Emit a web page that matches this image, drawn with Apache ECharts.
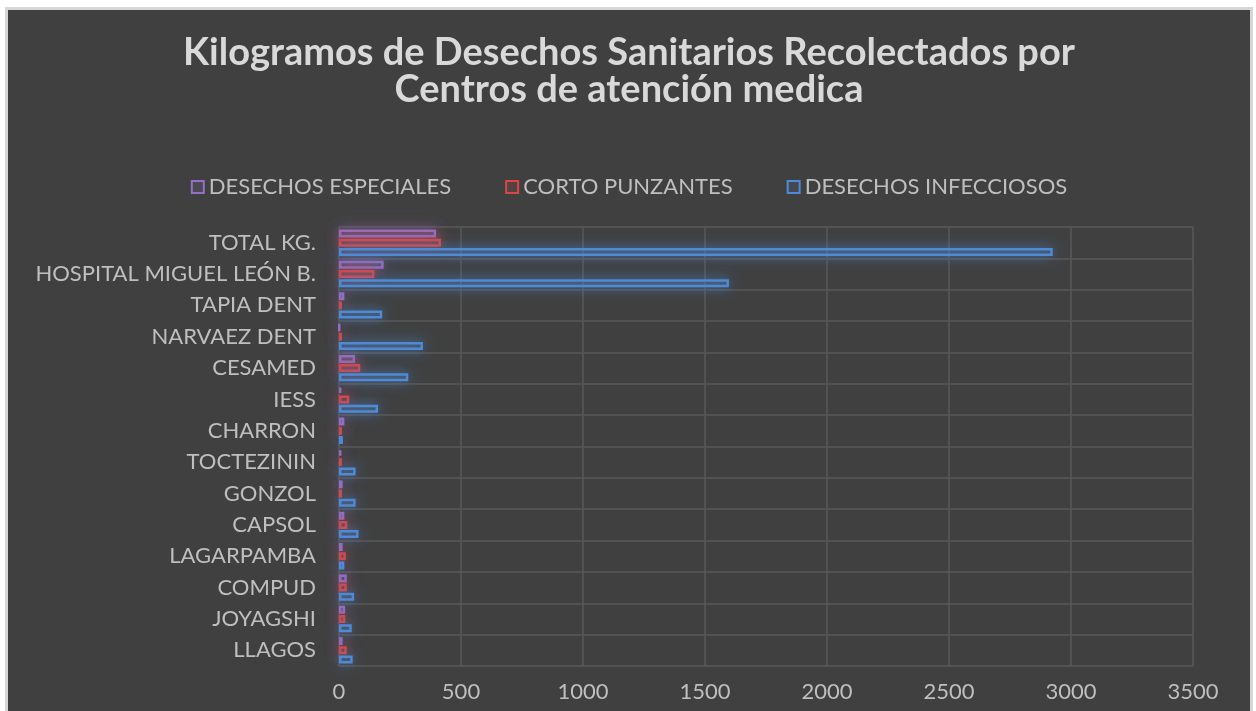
<!DOCTYPE html>
<html>
<head>
<meta charset="utf-8">
<script src="https://cdn.jsdelivr.net/npm/echarts@6/dist/echarts.min.js"></script>
<style>
  html, body { margin: 0; padding: 0; background: #ffffff; }
  #frame { position: absolute; left: 5px; top: 7px; width: 1248px; height: 710px; background: #d6d6d6; }
  #main { position: absolute; left: 8px; top: 10px; width: 1242px; height: 701px; }
</style>
</head>
<body>
<div id="frame"></div>
<div id="main"></div>
<script>
// categorias de abajo hacia arriba
var centros = ['LLAGOS', 'JOYAGSHI', 'COMPUD', 'LAGARPAMBA', 'CAPSOL', 'GONZOL', 'TOCTEZININ',
    'CHARRON', 'IESS', 'CESAMED', 'NARVAEZ DENT', 'TAPIA DENT', 'HOSPITAL MIGUEL LEÓN B.', 'TOTAL KG.'];
var especiales = [15, 25, 32, 15, 22, 15, 10, 22, 10, 66, 2, 22, 183, 398];
var cortoPunzantes = [32, 26, 32, 28, 34, 12, 12, 12, 42, 87, 12, 12, 145, 418];
var infecciosos = [56, 52, 62, 22, 80, 68, 68, 16, 160, 284, 344, 177, 1598, 2925];
var xTicks = [0, 3500, 500];

var fontFam = 'Lato, "Open Sans", sans-serif';

function serie(nombre, datos, color, fill) {
    return {
        name: nombre,
        type: 'bar',
        data: datos,
        barWidth: 8,
        barGap: '15%',
        itemStyle: {
            color: fill,
            borderColor: color,
            borderWidth: 2.5,
            shadowBlur: 14,
            shadowColor: color
        },
        emphasis: { disabled: true }
    };
}

var dom = document.getElementById('main');
var myChart = echarts.init(dom);
var option = {
    backgroundColor: '#404040',
    animation: false,
    title: {
        text: 'Kilogramos de Desechos Sanitarios Recolectados por\nCentros de atención medica',
        left: 'center',
        top: 19,
        textStyle: {
            color: '#d9d9d9',
            fontSize: 38,
            fontWeight: 'bold',
            fontFamily: fontFam,
            lineHeight: 37
        }
    },
    legend: {
        data: ['DESECHOS ESPECIALES', 'CORTO PUNZANTES', 'DESECHOS INFECCIOSOS'],
        top: 161,
        left: 'center',
        itemWidth: 12,
        itemHeight: 12,
        itemGap: 54,
        icon: 'rect',
        textStyle: { color: '#bfbfbf', fontSize: 22, fontFamily: fontFam }
    },
    grid: {
        left: 331,
        top: 217,
        width: 854,
        height: 439
    },
    xAxis: {
        type: 'value',
        min: xTicks[0],
        max: xTicks[1],
        interval: xTicks[2],
        axisLine: { show: false },
        axisTick: { show: false },
        axisLabel: {
            color: '#bfbfbf', fontSize: 22, fontFamily: fontFam, margin: 15,
            formatter: function (v) { return String(v); }
        },
        splitLine: { lineStyle: { color: '#595959', width: 1.5 } }
    },
    yAxis: {
        type: 'category',
        data: centros,
        axisLine: { show: false },
        axisTick: { show: false },
        axisLabel: { color: '#bfbfbf', fontSize: 22, fontFamily: fontFam, margin: 23 },
        splitLine: { show: true, lineStyle: { color: '#595959', width: 1.5 } }
    },
    series: [
        serie('DESECHOS ESPECIALES', especiales, '#9470c4', 'rgba(148,112,196,0.15)'),
        serie('CORTO PUNZANTES', cortoPunzantes, '#d8474a', 'rgba(216,71,74,0.15)'),
        serie('DESECHOS INFECCIOSOS', infecciosos, '#4f8ad6', 'rgba(79,138,214,0.12)')
    ]
};
myChart.setOption(option);
</script>
</body>
</html>
